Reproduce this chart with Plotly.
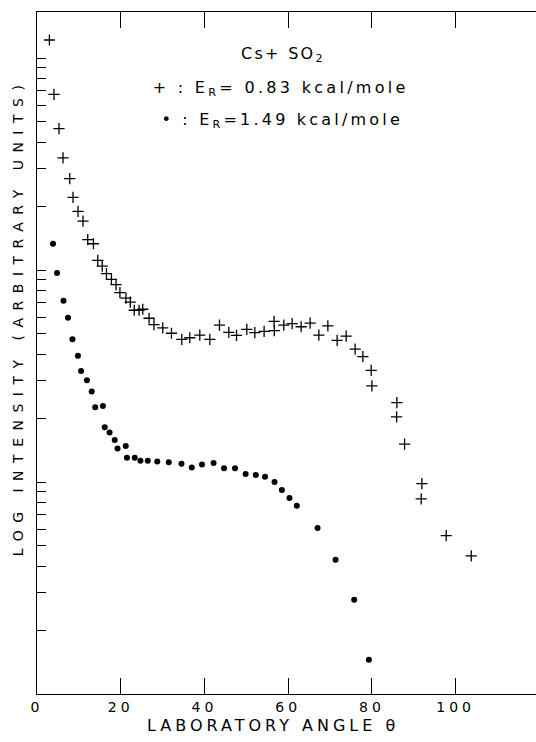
import plotly.graph_objects as go

# Cs + SO2 : E_R = 0.83 kcal/mole (crosses)
theta_low = [2.96, 4.06, 5.26, 6.21, 7.82, 8.60, 9.80, 10.99, 12.12, 13.48, 14.51, 15.58,
             16.59, 17.78, 18.88, 19.81, 21.25, 22.28, 23.23, 24.38, 25.26, 26.77, 27.94,
             30.04, 32.12, 34.58, 36.50, 38.89, 41.28, 43.59, 45.82, 47.66, 50.12, 52.03,
             54.25, 56.64, 56.69, 58.96, 60.95, 63.10, 65.25, 67.33, 69.48, 71.70, 73.85,
             76.00, 77.84, 79.83, 80.00, 85.97, 85.90, 87.81, 91.94, 91.78, 97.75, 103.73]
intensity_low = [1216, 674, 464, 338, 270, 220, 189, 170, 139, 133, 111, 104.4,
                 96.2, 90.4, 85.3, 78.2, 73.6, 70.5, 64.6, 64.6, 65.3, 59.2, 55.2,
                 53.3, 50.3, 47.1, 47.9, 49.3, 47.1, 55.0, 50.8, 49.2, 52.5, 50.6,
                 51.4, 57.2, 51.8, 55.0, 55.8, 54.0, 56.2, 49.3, 54.5, 46.6, 48.8,
                 42.3, 39.0, 33.6, 28.4, 23.7, 20.3, 15.1, 9.82, 8.32, 5.58, 4.48]

# Cs + SO2 : E_R = 1.49 kcal/mole (dots)
theta_high = [3.82, 4.78, 6.33, 7.41, 8.46, 9.78, 10.52, 11.93, 13.07, 13.91, 15.75, 16.18,
              17.33, 18.57, 19.24, 21.20, 21.49, 23.35, 24.71, 26.46, 28.73, 31.48, 34.51,
              36.97, 39.41, 42.18, 44.67, 47.30, 49.83, 52.27, 54.47, 56.74, 58.49, 60.32,
              62.07, 67.02, 71.32, 75.77, 79.28]
intensity_high = [133, 96.8, 71.7, 59.6, 47.1, 39.4, 33.4, 30.2, 26.7, 22.5, 22.8, 18.1,
                  17.1, 15.8, 14.4, 14.8, 13.0, 13.0, 12.6, 12.6, 12.5, 12.4, 12.2,
                  11.7, 12.1, 12.3, 11.6, 11.6, 10.9, 10.8, 10.6, 10.0, 9.17, 8.41,
                  7.73, 6.07, 4.30, 2.78, 1.45]

x_ticks = [0, 20, 40, 60, 80, 100]
y_ticks = [d * 10 ** k for k in range(4) for d in range(1, 10) if d * 10 ** k <= 1600]

FONT = "DejaVu Sans"

fig = go.Figure()
fig.add_trace(go.Scatter(x=theta_low, y=intensity_low, mode="markers",
                         marker=dict(symbol="cross-thin", size=8,
                                     line=dict(width=1.3, color="black"), color="black"),
                         showlegend=False))
fig.add_trace(go.Scatter(x=theta_high, y=intensity_high, mode="markers",
                         marker=dict(symbol="circle", size=6, color="black"),
                         showlegend=False))

fig.update_layout(
    width=536, height=742,
    margin=dict(l=37, r=0, t=12, b=48),
    paper_bgcolor="white", plot_bgcolor="white",
    font=dict(family=FONT, color="black"),
    xaxis=dict(range=[0, 119.2], tickvals=x_ticks, ticktext=[str(v) for v in x_ticks],
               ticks="inside", ticklen=16, tickwidth=1, tickcolor="black",
               showline=True, linewidth=1.2, linecolor="black", mirror="ticks",
               showgrid=False, zeroline=False, tickfont=dict(size=14, family=FONT)),
    yaxis=dict(type="log", range=[0, 3.217], tickvals=y_ticks, showticklabels=False,
               ticks="inside", ticklen=9, tickwidth=1, tickcolor="black",
               showline=True, linewidth=1.2, linecolor="black", mirror=False,
               showgrid=False, zeroline=False),
    annotations=[
        dict(text="LOG INTENSITY (ARBITRARY UNITS)", xref="paper", yref="paper",
             x=-0.038, y=0.553, textangle=-90, showarrow=False,
             xanchor="center", yanchor="middle", font=dict(size=14, family=FONT)),
        dict(text="LABORATORY ANGLE θ", xref="paper", yref="paper",
             x=0.473, y=-0.0455, showarrow=False,
             xanchor="center", yanchor="middle", font=dict(size=16, family=FONT)),
        dict(text="Cs+ SO<sub>2</sub>", xref="paper", yref="paper",
             x=0.493, y=0.937, showarrow=False,
             xanchor="center", yanchor="middle", font=dict(size=16, family=FONT)),
        dict(text="+ : E<sub>R</sub>= 0.83 kcal/mole", xref="paper", yref="paper",
             x=0.487, y=0.888, showarrow=False,
             xanchor="center", yanchor="middle", font=dict(size=16, family=FONT)),
        dict(text="• : E<sub>R</sub>=1.49 kcal/mole", xref="paper", yref="paper",
             x=0.491, y=0.841, showarrow=False,
             xanchor="center", yanchor="middle", font=dict(size=16, family=FONT)),
    ],
)

post = """
document.documentElement.style.margin = '0';
document.documentElement.style.overflow = 'hidden';
document.body.style.margin = '0';
document.body.style.overflow = 'hidden';
var gd = document.getElementById('{plot_id}');
var sp = {0: '7.5px', 1: '4px', 2: '2.3px', 3: '3.3px', 4: '3.2px'};
gd.querySelectorAll('g.annotation').forEach(function(g){
  var i = g.getAttribute('data-index');
  var t = g.querySelector('.annotation-text');
  if (t && sp[i] !== undefined) { t.style.letterSpacing = sp[i]; }
});
gd.querySelectorAll('.xtick text').forEach(function(t){ t.style.letterSpacing = '4px'; });
"""

fig.write_html("out.html", post_script=post, config={"displayModeBar": False})
